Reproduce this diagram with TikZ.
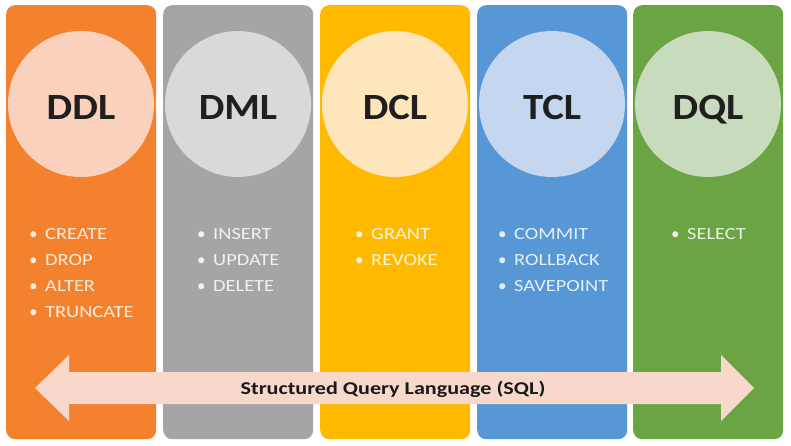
\documentclass[tikz,border=0pt]{standalone}
\usepackage{fontspec}
\setmainfont{Carlito}
\definecolor{cddl}{HTML}{F4812E}
\definecolor{cdml}{HTML}{A5A5A5}
\definecolor{cdcl}{HTML}{FFBA00}
\definecolor{ctcl}{HTML}{5797D6}
\definecolor{cdql}{HTML}{6AA443}
\definecolor{lddl}{HTML}{F9D1BC}
\definecolor{ldml}{HTML}{D9D9D9}
\definecolor{ldcl}{HTML}{FFE5BB}
\definecolor{ltcl}{HTML}{C4D7EE}
\definecolor{ldql}{HTML}{C9DBBD}
\definecolor{arrowfill}{HTML}{F8D8CB}
\begin{document}
\begin{tikzpicture}[x=1pt,y=-1pt,
  col/.style={draw=none, rounded corners=9pt, minimum width=150pt, minimum height=434pt, anchor=north west, inner sep=0pt},
  circ/.style={circle, minimum size=146pt, inner sep=0pt},
  lab/.style={font=\fontsize{37}{37}\selectfont\bfseries, text=black!88, anchor=base, inner sep=0pt},
  item/.style={font=\fontsize{17}{17}\selectfont, text=white, text opacity=0.85, anchor=base west, inner sep=0pt},
  sql/.style={font=\fontsize{18}{18}\selectfont\bfseries, text=black!90, anchor=base, inner sep=0pt}]
\useasboundingbox[fill=white] (0,0) rectangle (791,445);
% columns
\node[col, fill=cddl] (c1) at (6,5) {};
\node[col, fill=cdml] (c2) at (163,5) {};
\node[col, fill=cdcl] (c3) at (320,5) {};
\node[col, fill=ctcl] (c4) at (477,5) {};
\node[col, fill=cdql] (c5) at (633,5) {};
% circles
\node[circ, fill=lddl] (o1) at (81,104) {};
\node[circ, fill=ldml] (o2) at (238,104) {};
\node[circ, fill=ldcl] (o3) at (395,104) {};
\node[circ, fill=ltcl] (o4) at (552,104) {};
\node[circ, fill=ldql] (o5) at (708,104) {};
% labels
\node[lab] (t1) at (81,119) {\scalebox{1.1}[1]{DDL}};
\node[lab] (t2) at (238,119) {\scalebox{1.1}[1]{DML}};
\node[lab] (t3) at (395,119) {\scalebox{1.1}[1]{DCL}};
\node[lab] (t4) at (552,119) {\scalebox{1.1}[1]{TCL}};
\node[lab] (t5) at (708,119) {\scalebox{1.1}[1]{DQL}};
% items
\newcommand{\itm}[1]{\makebox[16pt][l]{\textbullet}\scalebox{1.2}[1]{#1}}
\node[item] (i11) at (29,239) {\itm{CREATE}};
\node[item] (i12) at (29,265) {\itm{DROP}};
\node[item] (i13) at (29,291) {\itm{ALTER}};
\node[item] (i14) at (29,317) {\itm{TRUNCATE}};
\node[item] (i21) at (197,239) {\itm{INSERT}};
\node[item] (i22) at (197,265) {\itm{UPDATE}};
\node[item] (i23) at (197,291) {\itm{DELETE}};
\node[item] (i31) at (355,239) {\itm{GRANT}};
\node[item] (i32) at (355,265) {\itm{REVOKE}};
\node[item] (i41) at (498,239) {\itm{COMMIT}};
\node[item] (i42) at (498,265) {\itm{ROLLBACK}};
\node[item] (i43) at (498,291) {\itm{SAVEPOINT}};
\node[item] (i51) at (671,239) {\itm{SELECT}};
% double arrow
\fill[arrowfill] (35,388) -- (69,355) -- (69,372) -- (721,372) -- (721,355)
  -- (754,388) -- (721,421) -- (721,404) -- (69,404) -- (69,421) -- cycle;
\node[sql] (sqlt) at (393,394) {\scalebox{1.23}[1]{Structured Query Language (SQL)}};
\end{tikzpicture}
\end{document}
